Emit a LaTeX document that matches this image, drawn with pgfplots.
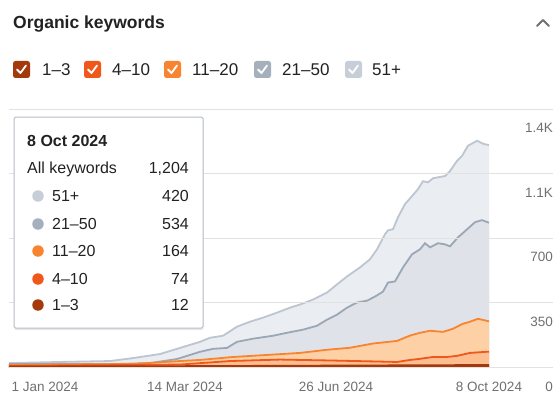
\documentclass[border=0pt]{standalone}
\usepackage{fontspec}
\setmainfont{Liberation Sans}
\usepackage{pgfplots}
\pgfplotsset{compat=1.18}
\usepackage{pgfplotstable}
\usetikzlibrary{shadows,calc}

\definecolor{c13}{HTML}{A43A0C}
\definecolor{c410}{HTML}{F0571A}
\definecolor{c1120}{HTML}{F9842F}
\definecolor{c2150}{HTML}{A6B0BC}
\definecolor{c51}{HTML}{C7CED8}
\definecolor{fill51}{HTML}{EAEDF1}
\definecolor{fill2150}{HTML}{DFE3E9}
\definecolor{fill1120}{HTML}{FDD0A6}
\definecolor{fill410}{HTML}{FCBD90}
\definecolor{line51}{HTML}{BCC5D0}
\definecolor{line2150}{HTML}{9CA7B5}
\definecolor{gridc}{HTML}{E2E2E2}
\definecolor{tickc}{HTML}{707070}
\definecolor{txt}{HTML}{222222}
\definecolor{boxborder}{HTML}{B8BEC6}

\newcommand\fs[1]{\fontsize{#1}{#1}\selectfont}

% cumulative series, x in picture pixels
\pgfplotstableread{
x y
9 24
60 30
110 35
133 51
160 73
180 106
200 139
210 161
223 172
237 221
250 248
263 270
277 297
290 324
300 341
313 368
327 406
337 450
347 493
360 542
370 586
377 640
385 722
388 743
393 749
398 814
405 885
412 928
418 966
423 1009
428 1003
433 1025
445 1037
450 1064
457 1119
462 1146
468 1201
477 1228
483 1212
489 1204
}\tall

\pgfplotstableread{
x y
9 19
117 19
150 24
177 46
200 85
213 101
227 106
237 139
253 156
273 172
287 188
303 205
317 226
327 259
337 286
347 324
357 352
367 362
375 384
383 411
388 460
395 466
403 542
412 613
420 640
425 673
430 651
438 673
445 667
450 656
458 705
467 748
475 787
482 798
489 784
}\ttwo

\pgfplotstableread{
x y
9 14
133 19
180 35
200 41
233 57
267 68
300 79
327 96
350 107
373 130
397 144
410 173
420 188
430 199
443 193
453 210
463 237
470 248
478 264
489 250
}\televen

\pgfplotstableread{
x y
9 8
180 16
230 35
280 43
330 38
373 33
397 30
410 41
420 47
433 57
447 57
457 63
470 79
489 86
}\tfour

\pgfplotstableread{
x y
9 4
150 5
250 7
350 9
450 11
489 12
}\tone

\begin{document}
\begin{tikzpicture}
\path[use as bounding box, fill=white] (0,0) rectangle (560pt,400pt);
\begin{axis}[
  at={(9pt,32.5pt)}, anchor=south west,
  scale only axis, width=544pt, height=258.5pt,
  xmin=9, xmax=553, ymin=0, ymax=1400,
  axis on top,
  axis line style={draw=none},
  major tick style={draw=none},
  ytick={0,350,700,1050,1400},
  yticklabels={0,350,700,1.1K,1.4K},
  yticklabel pos=right,
  ymajorgrids,
  grid style={color=gridc, line width=1pt},
  xtick={45,185,336,489},
  xticklabels={1 Jan 2024,14 Mar 2024,26 Jun 2024,8 Oct 2024},
  tick label style={font=\fs{13.5}, text=tickc, inner sep=0pt},
  xticklabel style={anchor=north, yshift=-14.5pt},
  yticklabel style={anchor=north east, yshift=-14pt, xshift=0pt},
]
\addplot[fill=fill51, draw=none] table[x=x,y=y]{\tall} \closedcycle;
\addplot[line51, line width=1.8pt] table[x=x,y=y]{\tall};
\addplot[fill=fill2150, draw=none] table[x=x,y=y]{\ttwo} \closedcycle;
\addplot[line2150, line width=1.8pt] table[x=x,y=y]{\ttwo};
\addplot[fill=fill1120, draw=none] table[x=x,y=y]{\televen} \closedcycle;
\addplot[c1120, line width=1.8pt] table[x=x,y=y]{\televen};
\addplot[fill=fill410, draw=none] table[x=x,y=y]{\tfour} \closedcycle;
\addplot[c410, line width=1.8pt] table[x=x,y=y]{\tfour};
\addplot[fill=c13, draw=none] table[x=x,y=y]{\tone} \closedcycle;
\addplot[c13, line width=2.4pt] table[x=x,y=y]{\tone};
\end{axis}

\begin{scope}[x=1pt, y=-1pt, shift={(0pt,400pt)}]
% title and chevron
\node[anchor=base west, inner sep=0pt, text=txt] at (13,28.5) {\fs{17.5}\bfseries Organic keywords};
\draw[tickc, line width=2pt, line cap=round, line join=round] (537,26) -- (543,20) -- (549,26);

% legend checkboxes
\foreach \bx/\col/\lx/\lab in {13/c13/42/{1–3}, 84/c410/112/{4–10}, 164/c1120/192/{11–20}, 254/c2150/282/{21–50}, 345/c51/372/{51+}}{
  \fill[\col, rounded corners=2.5pt] (\bx,61) rectangle ++(17,17);
  \draw[white, line width=1.8pt, line cap=round, line join=round] ($(\bx,61)+(4,8.5)$) -- ++(3.5,3.5) -- ++(5.5,-7.5);
  \node[anchor=base west, inner sep=0pt, text=txt] at (\lx,75.7) {\fs{17}\lab};
}

% tooltip
\filldraw[fill=white, draw=boxborder, line width=1pt, rounded corners=1.5pt,
  drop shadow={opacity=0.18, shadow xshift=0.5pt, shadow yshift=-2pt}] (14,117) rectangle (203,328);
\node[anchor=base west, inner sep=0pt, text=txt] at (27,146.7) {\fs{16}\bfseries 8 Oct 2024};
\node[anchor=base west, inner sep=0pt, text=txt] at (27,173.5) {\fs{16}All keywords};
\node[anchor=base east, inner sep=0pt, text=txt] at (189,173.5) {\fs{16}1,204};
\foreach \yy/\col/\lab/\val in {196/c51/{51+}/420, 224/c2150/{21–50}/534, 251/c1120/{11–20}/164, 279/c410/{4–10}/74, 305/c13/{1–3}/12}{
  \node[circle, fill=\col, draw=none, inner sep=0pt, minimum size=11.5pt] at (38,\yy) {};
  \node[anchor=base west, inner sep=0pt, text=txt] at (52,\yy+5.6) {\fs{16}\lab};
  \node[anchor=base east, inner sep=0pt, text=txt] at (189,\yy+5.6) {\fs{16}\val};
}
\end{scope}
\end{tikzpicture}
\end{document}
